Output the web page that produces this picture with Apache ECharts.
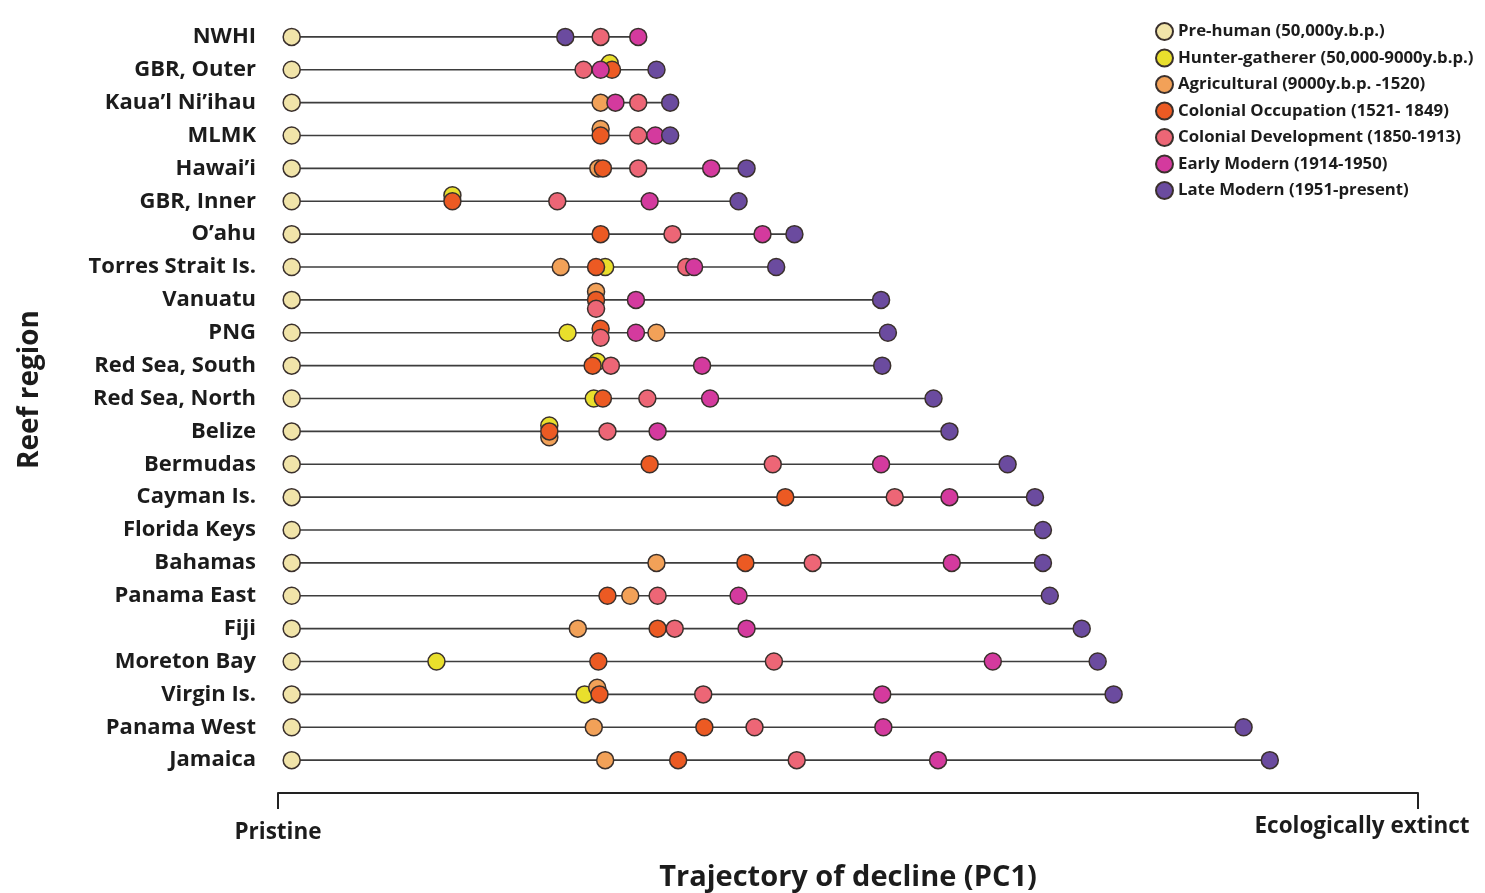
<!DOCTYPE html>
<html>
<head>
<meta charset="utf-8">
<script src="https://cdn.jsdelivr.net/npm/echarts@6/dist/echarts.min.js"></script>
<style>
  html, body { margin: 0; background: #fff; }
  #chart { width: 1485px; height: 893px; }
</style>
</head>
<body>
<div id="chart"></div>
<script>
const regions = [
  'NWHI', 'GBR, Outer', 'Kaua\u2019l Ni\u2019ihau', 'MLMK', 'Hawai\u2019i', 'GBR, Inner', 'O\u2019ahu',
  'Torres Strait Is.', 'Vanuatu', 'PNG', 'Red Sea, South', 'Red Sea, North', 'Belize', 'Bermudas',
  'Cayman Is.', 'Florida Keys', 'Bahamas', 'Panama East', 'Fiji', 'Moreton Bay', 'Virgin Is.',
  'Panama West', 'Jamaica'
]

const phaseNames = [
  'Pre-human (50,000y.b.p.)',
  'Hunter-gatherer (50,000-9000y.b.p.)',
  'Agricultural (9000y.b.p. -1520)',
  'Colonial Occupation (1521- 1849)',
  'Colonial Development (1850-1913)',
  'Early Modern (1914-1950)',
  'Late Modern (1951-present)'
]
const phaseColors = ['#f1e4a9', '#e9df2c', '#f2a158', '#ec5a23', '#ed6676', '#d43a9e', '#6b4b9f']

// PC1 score per region, 0 = pristine, 100 = ecologically extinct.
// null = no point; [score, nudge] = overlapping dot drawn a little above (-) or below (+) its row
const preHuman = [1.2, 1.2, 1.2, 1.2, 1.2, 1.2, 1.2, 1.2, 1.2, 1.2, 1.2, 1.2,
  1.2, 1.2, 1.2, 1.2, 1.2, 1.2, 1.2, 1.2, 1.2, 1.2, 1.2]
const hunterGatherer = [null, [29.1, -0.2], null, null, null, [15.3, -0.18], null, 28.7, null, 25.4,
  [28.0, -0.12], 27.7, [23.8, -0.18], null, null, null, null, null, null, 13.9, 26.9, null, null]
const agricultural = [null, null, 28.3, [28.3, -0.2], 28.1, null, null, 24.8, [27.9, -0.25], 33.2,
  null, null, [23.8, 0.18], null, null, null, 33.2, 30.9, 26.3, null, [28.0, -0.2], 27.7, 28.7]
const colonialOccupation = [null, 29.3, null, 28.3, 28.5, 15.3, 28.3, 27.9, 27.9, [28.3, -0.12],
  27.6, 28.5, 23.8, 32.6, 44.5, null, 41.0, 28.9, 33.3, 28.1, 28.2, 37.4, 35.1]
const colonialDevelopment = [28.3, 26.8, 31.6, 31.6, 31.6, 24.5, 34.6, 35.8, [27.9, 0.27], [28.3, 0.15],
  29.2, 32.4, 28.9, 43.4, 54.1, null, 46.9, 33.3, 34.8, 43.5, 37.3, 41.8, 45.5]
const earlyModern = [31.6, 28.3, 29.6, 33.1, 38.0, 32.6, 42.5, 36.5, 31.4, 31.4,
  37.2, 37.9, 33.3, 52.9, 58.9, null, 59.1, 40.4, 41.1, 62.7, 53.0, 53.1, 57.9]
const lateModern = [25.2, 33.2, 34.4, 34.4, 41.1, 40.4, 45.3, 43.7, 52.9, 53.5,
  53.0, 57.5, 58.9, 64.0, 66.4, 67.1, 67.1, 67.7, 70.5, 71.9, 73.3, 84.7, 87.0]

const phaseScores = [preHuman, hunterGatherer, agricultural, colonialOccupation,
  colonialDevelopment, earlyModern, lateModern]

const xTicks = ['Pristine', 'Ecologically extinct']

const scoreOf = (v) => (Array.isArray(v) ? v[0] : v)

// one connector per region, from pre-human to the furthest phase
const connectors = regions.map((_, i) => {
  const vals = phaseScores.map((arr) => arr[i]).filter((v) => v !== null).map(scoreOf)
  return [Math.min(...vals), Math.max(...vals), i]
})

const dotSeries = phaseNames.map((name, p) => ({
  name,
  type: 'scatter',
  symbol: 'circle',
  symbolSize: 17,
  z: 3 + p,
  itemStyle: { color: phaseColors[p], borderColor: '#3a302c', borderWidth: 1.5, opacity: 1 },
  emphasis: { disabled: true },
  data: phaseScores[p]
    .map((v, i) => (v === null ? null : [scoreOf(v), i + (Array.isArray(v) ? v[1] : 0)]))
    .filter((d) => d !== null)
}))

const labelFont = { fontFamily: 'Open Sans', fontWeight: 'bold', color: '#1c1c1c' }

const chart = echarts.init(document.getElementById('chart'), null, { renderer: 'canvas' })
chart.setOption({
  backgroundColor: '#ffffff',
  animation: false,
  grid: { left: 278, right: 67, top: 4, bottom: 100, outerBoundsMode: 'none', containLabel: false },
  legend: {
    data: phaseNames,
    orient: 'vertical',
    left: 1150,
    top: 17,
    itemWidth: 17,
    itemHeight: 17,
    itemGap: 7.5,
    icon: 'circle',
    textStyle: { ...labelFont, fontWeight: 'bold', fontSize: 16.8 }
  },
  xAxis: {
    type: 'value',
    position: 'bottom',
    min: 0,
    max: 100,
    interval: 100,
    splitLine: { show: false },
    axisLine: { show: true, onZero: false, lineStyle: { color: '#222', width: 2 } },
    axisTick: { show: true, length: 16, lineStyle: { color: '#222', width: 2 } },
    axisLabel: {
      margin: 22,
      formatter: (v) => (v === 0 ? `{a|${xTicks[0]}}` : `{b|${xTicks[1]}}`),
      rich: {
        a: { ...labelFont, fontSize: 22.5, padding: [6, 0, 0, 0] },
        b: { ...labelFont, fontSize: 22.5, padding: [0, 112, 6, 0] }
      }
    },
    name: 'Trajectory of decline (PC1)',
    nameLocation: 'middle',
    nameGap: 70,
    nameTextStyle: { ...labelFont, fontSize: 29 }
  },
  yAxis: {
    type: 'value',
    inverse: true,
    min: -1,
    max: 23,
    interval: 1,
    splitLine: { show: false },
    axisLine: { show: false },
    axisTick: { show: false },
    axisLabel: {
      ...labelFont,
      fontSize: 22,
      margin: 22,
      formatter: (v) => regions[v] || ''
    },
    name: 'Reef region',
    nameLocation: 'middle',
    nameGap: 234,
    nameTextStyle: { ...labelFont, fontSize: 28, padding: [0, 0, 0, 18] }
  },
  series: [
    {
      type: 'custom',
      silent: true,
      z: 1,
      encode: { x: [0, 1], y: 2 },
      data: connectors,
      renderItem(params, api) {
        const a = api.coord([api.value(0), api.value(2)])
        const b = api.coord([api.value(1), api.value(2)])
        return {
          type: 'line',
          shape: { x1: a[0], y1: a[1], x2: b[0], y2: b[1] },
          style: { stroke: '#3d3d3d', lineWidth: 1.6 }
        }
      }
    },
    ...dotSeries
  ]
})
</script>
</body>
</html>
